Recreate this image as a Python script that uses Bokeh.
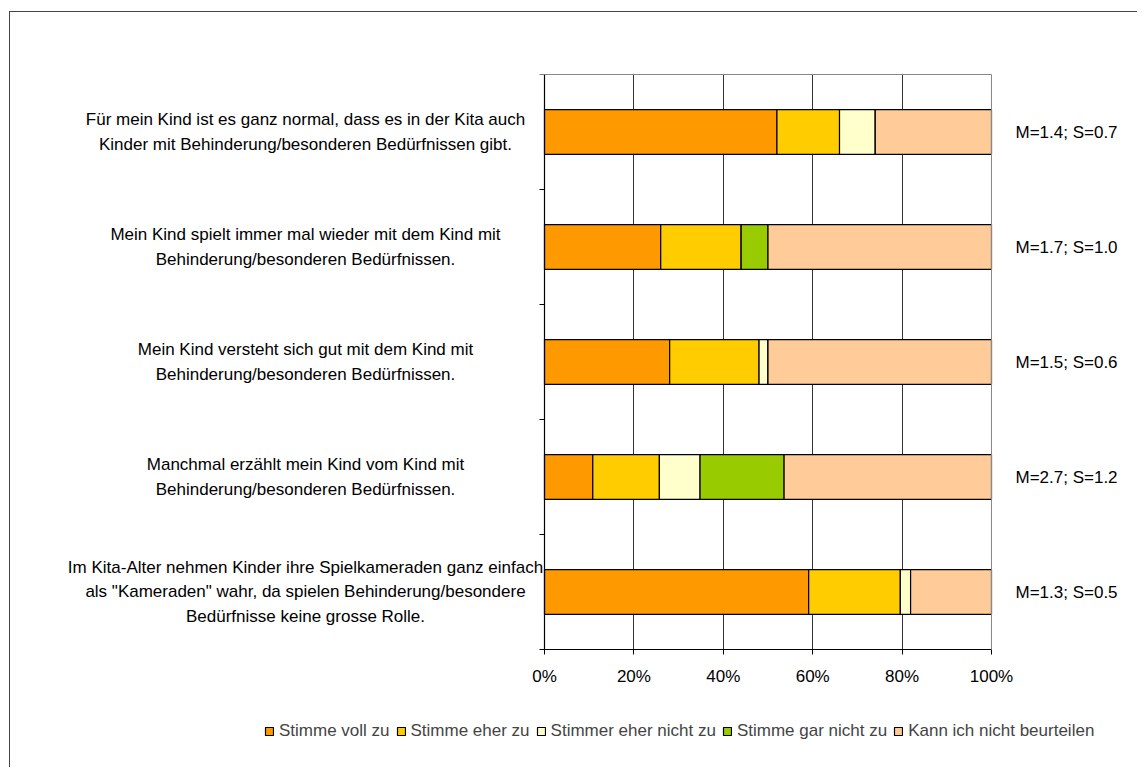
from bokeh.plotting import figure
from bokeh.models import (ColumnDataSource, Range1d, FixedTicker, LinearAxis,
                          Legend, LegendItem, PrintfTickFormatter)
from bokeh.core.properties import value
from bokeh.embed import file_html
from bokeh.resources import INLINE

categories = [
    "Für mein Kind ist es ganz normal, dass es in der Kita auch\nKinder mit Behinderung/besonderen Bedürfnissen gibt.",
    "Mein Kind spielt immer mal wieder mit dem Kind mit\nBehinderung/besonderen Bedürfnissen.",
    "Mein Kind versteht sich gut mit dem Kind mit\nBehinderung/besonderen Bedürfnissen.",
    "Manchmal erzählt mein Kind vom Kind mit\nBehinderung/besonderen Bedürfnissen.",
    "Im Kita-Alter nehmen Kinder ihre Spielkameraden ganz einfach\nals \"Kameraden\" wahr, da spielen Behinderung/besondere\nBedürfnisse keine grosse Rolle.",
]
stats = ["M=1.4; S=0.7", "M=1.7; S=1.0", "M=1.5; S=0.6", "M=2.7; S=1.2", "M=1.3; S=0.5"]

series = ["Stimme voll zu", "Stimme eher zu", "Stimmer eher nicht zu",
          "Stimme gar nicht zu", "Kann ich nicht beurteilen"]
voll_zu = [52.0, 26.0, 28.0, 10.8, 59.1]
eher_zu = [14.0, 18.0, 20.0, 14.9, 20.5]
eher_nicht = [8.0, 0.0, 2.0, 9.1, 2.3]
gar_nicht = [0.0, 6.0, 0.0, 18.8, 0.0]
kann_nicht = [26.0, 50.0, 50.0, 46.4, 18.1]
colors = ["#FF9900", "#FFCC00", "#FFFFCC", "#99CC00", "#FFCC99"]
x_ticks = [0, 20, 40, 60, 80, 100]

FONT = "Liberation Sans"
FS = "17px"

# layout (pixels)
LABEL_PX = 534      # room for category labels left of the 0% axis
BARS_PX = 447       # width of the 0..100% area
RIGHT_PX = 146      # room right of the 100% line for the statistics
TOP_PX = 62
PLOT_H = 575        # height of the bar area
FOOT_PX = 118       # room below the bar area for tick labels and legend

n = len(categories)
ys = [i + 0.5 for i in range(n)]
source = ColumnDataSource(dict(y=ys, cat=categories, **{
    series[0]: voll_zu, series[1]: eher_zu, series[2]: eher_nicht,
    series[3]: gar_nicht, series[4]: kann_nicht}))

x_lo = -100.0 * LABEL_PX / BARS_PX
x_hi = 100.0 + 100.0 * RIGHT_PX / BARS_PX
y_hi = n + n * FOOT_PX / PLOT_H
p = figure(frame_width=LABEL_PX + BARS_PX + RIGHT_PX, frame_height=PLOT_H + FOOT_PX,
           x_range=Range1d(x_lo, x_hi), y_range=Range1d(y_hi, 0),
           x_axis_location=None, y_axis_location=None,
           output_backend="svg", toolbar_location=None,
           min_border_left=0, min_border_top=TOP_PX, min_border_right=0,
           min_border_bottom=0, background_fill_color="white",
           border_fill_color="white", outline_line_color=None)
p.xgrid.visible = False
p.ygrid.visible = False

# vertical grid lines, limited to the bar area
for xt in x_ticks[1:]:
    g = LinearAxis(ticker=FixedTicker(ticks=[], minor_ticks=[]), fixed_location=xt,
                   bounds=(0, n), level="underlay")
    g.axis_line_color = "#333333" if xt < 100 else "#888888"
    g.axis_line_width = 1
    g.major_tick_line_color = None
    g.minor_tick_line_color = None
    g.major_tick_out = 0
    g.major_label_standoff = 0
    g.major_label_text_font_size = "0px"
    p.add_layout(g, "left")

rs = p.hbar_stack(series, y="y", height=0.39, color=colors, line_color="black",
                  line_width=1.2, source=source)

# category labels, centered lines, left of the 0% axis
p.text(x=0, y="y", text="cat", source=source, x_offset=-239,
       text_align="center", text_baseline="middle",
       text_font=value(FONT), text_font_size=value(FS), text_color="black",
       text_line_height=1.3)

# x axis at the bottom of the bar area
xa = LinearAxis(ticker=FixedTicker(ticks=x_ticks), bounds=(0, 100), fixed_location=n,
                formatter=PrintfTickFormatter(format="%d%%"))
xa.axis_line_color = "black"
xa.axis_line_width = 1.2
xa.major_tick_out = 5
xa.major_tick_in = 0
xa.minor_tick_line_color = None
xa.major_label_standoff = 12
xa.major_label_text_font = FONT
xa.major_label_text_font_size = FS
xa.major_label_text_color = "black"
p.add_layout(xa, "below")

# top frame line
ta = LinearAxis(ticker=FixedTicker(ticks=[]), bounds=(0, 100))
ta.axis_line_color = "#888888"
ta.major_tick_line_color = None
ta.minor_tick_line_color = None
ta.major_label_text_font_size = "0px"
ta.major_tick_out = 0
ta.major_label_standoff = 0
p.add_layout(ta, "above")

# left axis drawn at 0%: ticks at category boundaries
ya = LinearAxis(ticker=FixedTicker(ticks=[], minor_ticks=list(range(n + 1))),
                fixed_location=0, bounds=(0, n))
ya.major_label_text_font_size = "0px"
ya.major_tick_line_color = None
ya.major_tick_out = 0
ya.major_label_standoff = 0
ya.minor_tick_out = 5
ya.minor_tick_in = 0
ya.minor_tick_line_color = "black"
ya.axis_line_color = "black"
ya.axis_line_width = 1.2
p.add_layout(ya, "left")

# statistics to the right of the 100% line
ra = LinearAxis(ticker=FixedTicker(ticks=ys, minor_ticks=[]), bounds=(0, n),
                fixed_location=100)
ra.major_label_overrides = {y: s for y, s in zip(ys, stats)}
ra.axis_line_color = "#888888"
ra.major_tick_line_color = None
ra.major_tick_out = 0
ra.minor_tick_line_color = None
ra.major_label_standoff = 24
ra.major_label_text_font = FONT
ra.major_label_text_font_size = FS
ra.major_label_text_color = "black"
p.add_layout(ra, "right")

# legend below the x axis (offset from the plot area's bottom-left corner)
legend = Legend(items=[LegendItem(label=s, renderers=[r]) for s, r in zip(series, rs)],
                orientation="horizontal", location=(254, 26),
                glyph_width=10, glyph_height=10, label_standoff=5, spacing=6,
                label_text_font=FONT, label_text_font_size=FS,
                border_line_color=None, background_fill_alpha=0,
                padding=0, margin=0)
p.add_layout(legend)

p.styles = {"margin-left": "9px", "margin-top": "11px",
            "border-top": "1.5px solid #444444", "border-left": "1.5px solid #444444"}

open("out.html", "w").write(file_html(p, INLINE))
